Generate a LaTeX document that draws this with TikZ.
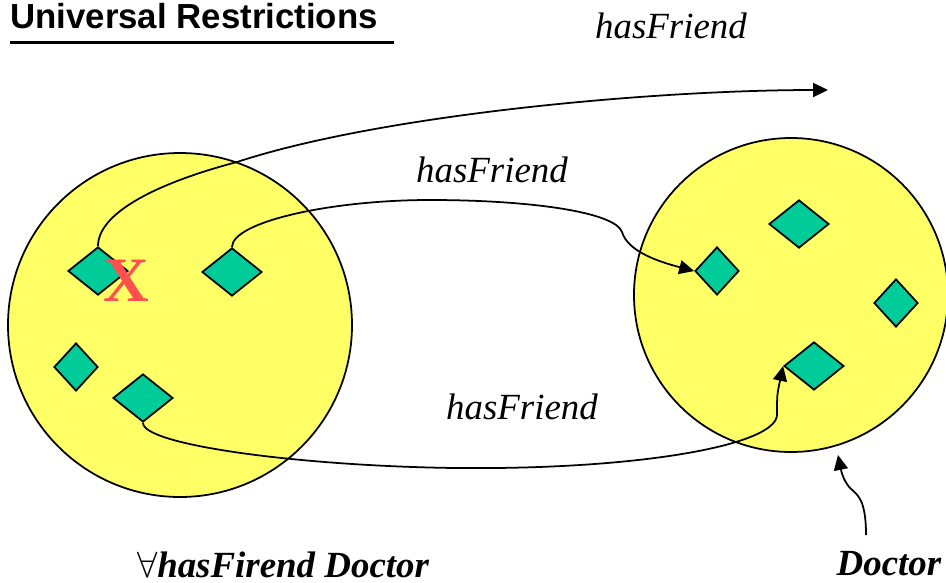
\documentclass[tikz,border=0pt]{standalone}
\usepackage{fontspec}
\setmainfont{Liberation Serif}
\newfontfamily\arial{Liberation Sans}
\usetikzlibrary{shapes.geometric,arrows.meta}
\definecolor{setyellow}{HTML}{FFFF66}
\definecolor{elemgreen}{HTML}{00CC99}
\definecolor{crossred}{HTML}{FF5050}

\begin{document}
\begin{tikzpicture}[x=0.2mm, y=-0.2mm,
			classset/.style = {shape=circle, draw, line width=1pt,
				fill=setyellow, inner sep=0pt},
			elem/.style = {shape=diamond, draw, line width=1pt, fill=elemgreen,
				inner sep=0pt, minimum width=12mm, minimum height=9.6mm},
			thin elem/.style = {elem, minimum width=8.8mm},
			rel/.style = {draw, line width=1pt, -{Triangle[length=8.5pt,width=8pt]}},
			lbl/.style = {anchor=base, inner sep=0pt,
				font=\fontsize{21}{25}\selectfont\itshape},
			boldlbl/.style = {lbl, font=\fontsize{21}{25}\selectfont\bfseries\itshape}]
	\useasboundingbox (0,0) rectangle (946,582);
	\node[anchor=base west, inner sep=0pt,
		font=\arial\bfseries\fontsize{19.8}{24}\selectfont] (title) at (10,28) {Universal Restrictions};
	\draw[line width=1.7pt] ([yshift=-8pt]title.base west) -- ([yshift=-8pt,xshift=9pt]title.base east);
	\node[classset, minimum size=68.8mm] (left) at (180,325) {};
	\node[classset, minimum size=62.8mm] (right) at (791,295) {};
	\node[elem] (a1) at (98,271) {};
	\node[elem] (a2) at (232,272) {};
	\node[thin elem] (a3) at (76,367) {};
	\node[elem] (a4) at (143,398) {};
	\node[thin elem] (b1) at (717,271) {};
	\node[elem] (b2) at (799,224) {};
	\node[thin elem] (b3) at (896,303) {};
	\node[elem] (b4) at (814,366) {};
	\coordinate (far) at (828,90);
	\coordinate (docfoot) at (866,535);
	\coordinate (doctip) at (838,455);
	\draw[rel] (a1.north) .. controls (98,215) and (150,185) .. (237,162)
		.. controls (380,115) and (650,90) .. (far);
	\draw[rel] (a2.north) .. controls (232,222) and (330,200) .. (430,200)
		.. controls (530,200) and (615,212) .. (622,232)
		.. controls (628,252) and (660,262) .. (b1.west);
	\draw[rel] (a4.south) .. controls (143,445) and (300,466) .. (455,468)
		.. controls (640,470) and (776,445) .. (777,415)
		.. controls (777,395) .. (b4.west);
	\draw[rel] (docfoot) .. controls (866,500) and (858,495) .. (850,488)
		.. controls (843,480) and (841,470) .. (doctip);
	\node[anchor=base, inner sep=0pt, text=crossred,
		font=\fontsize{36}{40}\selectfont\bfseries] (cross) at (126,301) {X};
	\node[lbl] (toplbl) at (671,38) {hasFriend};
	\node[lbl] (midlbl) at (492,182) {hasFriend};
	\node[lbl] (lowlbl) at (522,419) {hasFriend};
	\node[boldlbl] (restr) at (283,577) {$\forall$hasFirend Doctor};
	\node[boldlbl] (doc) at (889,575) {Doctor};
\end{tikzpicture}
\end{document}
